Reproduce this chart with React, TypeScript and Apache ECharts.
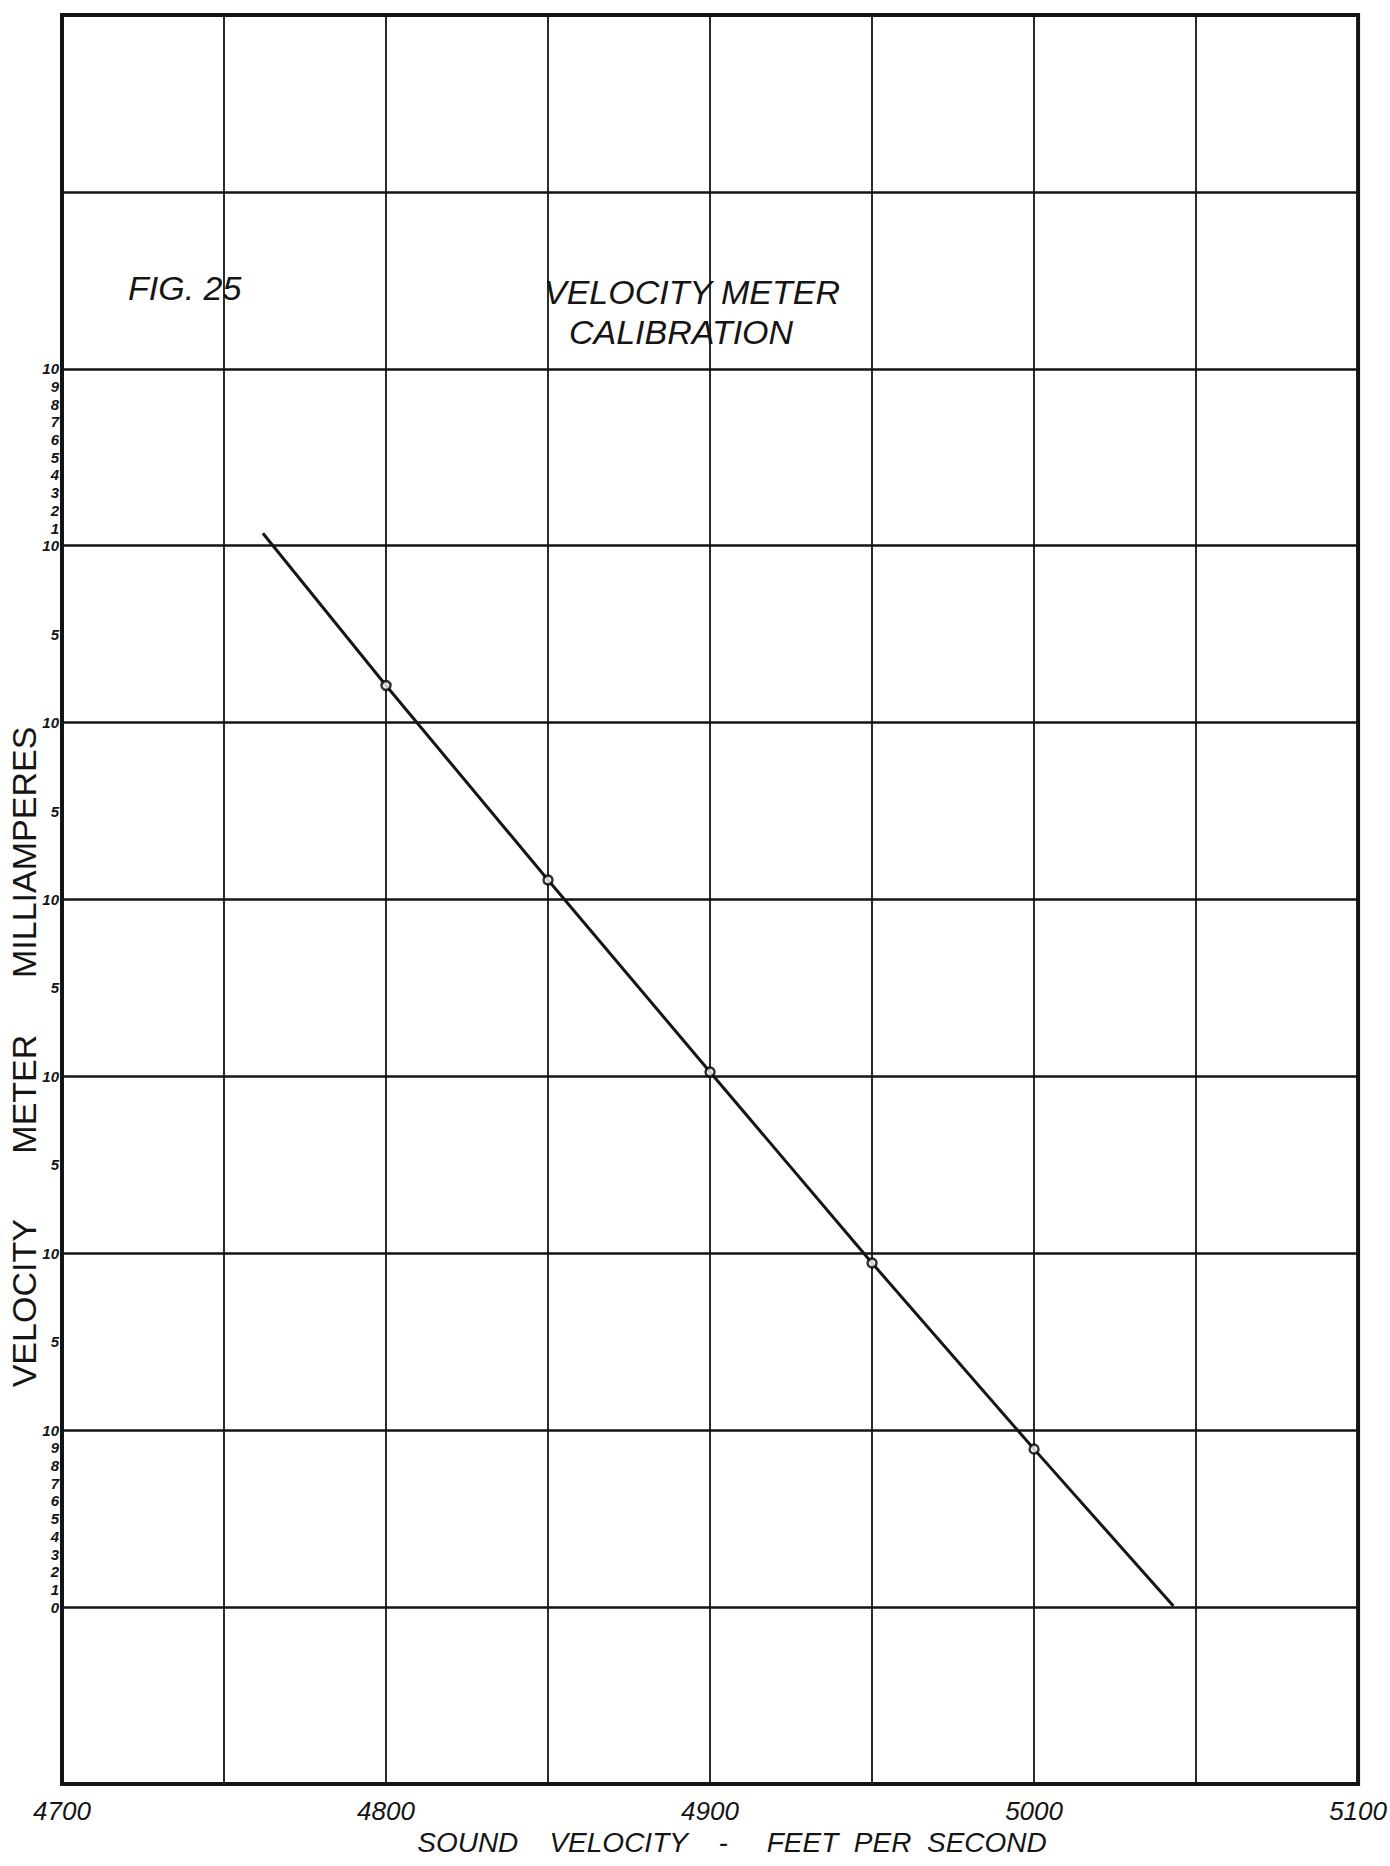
import React, { useEffect, useRef } from "react";
import * as echarts from "echarts";

// Measured calibration points (sound velocity ft/s, meter reading on continuous mA scale)
const pointVelocity = [4800, 4850, 4900, 4950, 5000];
const pointCurrent = [52.1, 41.1, 30.25, 19.45, 8.93];

// Hand-drawn calibration line: start, through the points, end
const lineVelocity = [4762, 4800, 4850, 4900, 4950, 5000, 5043];
const lineCurrent = [60.7, 52.1, 41.1, 30.25, 19.45, 8.93, 0.06];

// Axis ticks
const xTickValues = [4700, 4800, 4900, 5000, 5100];
const xTickLabels = ["4700", "4800", "4900", "5000", "5100"];

const yTickValues = [
  0, 1, 2, 3, 4, 5, 6, 7, 8, 9, 10,
  15, 20, 25, 30, 35, 40, 45, 50, 55,
  60, 61, 62, 63, 64, 65, 66, 67, 68, 69, 70,
];
const yTickLabels = [
  "0", "1", "2", "3", "4", "5", "6", "7", "8", "9", "10",
  "5", "10", "5", "10", "5", "10", "5", "10", "5",
  "10", "1", "2", "3", "4", "5", "6", "7", "8", "9", "10",
];

const INK = "#151515";
const FONT = "Liberation Sans";

const txt = (text: string, x: number, y: number, size: number, align: string, extra: any = {}) => ({
  type: "text",
  x,
  y,
  ...extra,
  style: {
    text,
    fontSize: size,
    fontStyle: extra.upright ? "normal" : "italic",
    fontFamily: FONT,
    fill: INK,
    textAlign: align,
    textVerticalAlign: "middle",
    align,
    verticalAlign: "middle",
  },
});

export default function App() {
  const ref = useRef<HTMLDivElement>(null);

  useEffect(() => {
    if (!ref.current) return;
    const chart = echarts.init(ref.current, null, { renderer: "svg" });

    const xMap: Record<string, string> = {};
    xTickValues.forEach((v, i) => (xMap[String(v)] = xTickLabels[i]));
    const yMap: Record<string, string> = {};
    yTickValues.forEach((v, i) => (yMap[String(v)] = yTickLabels[i]));

    chart.setOption({
      animation: false,
      backgroundColor: "#ffffff",
      grid: {
        left: 62,
        right: 31,
        top: 15,
        bottom: 82,
        show: true,
        borderColor: INK,
        borderWidth: 4,
        backgroundColor: "transparent",
      },
      xAxis: {
        type: "value",
        min: 4700,
        max: 5100,
        interval: 50,
        axisLine: { show: false },
        axisTick: { show: false },
        splitLine: { show: true, lineStyle: { color: INK, width: 1.8 } },
        axisLabel: {
          show: true,
          margin: 14,
          fontSize: 26,
          fontStyle: "italic",
          fontFamily: FONT,
          color: INK,
          formatter: (v: number) => xMap[String(Math.round(v))] ?? "",
        },
      },
      yAxis: [
        {
          type: "value",
          min: -10,
          max: 90,
          interval: 10,
          axisLine: { show: false },
          axisTick: { show: false },
          axisLabel: { show: false },
          splitLine: { show: true, lineStyle: { color: INK, width: 2.6 } },
        },
        {
          type: "value",
          position: "left",
          offset: 0,
          min: -10,
          max: 90,
          interval: 1,
          axisLine: { show: false },
          axisTick: { show: false },
          splitLine: { show: false },
          axisLabel: {
            show: true,
            margin: 3,
            fontSize: 15,
            fontWeight: "bold",
            fontStyle: "italic",
            fontFamily: FONT,
            color: INK,
            formatter: (v: number) => yMap[String(Math.round(v))] ?? "",
          },
        },
      ],
      series: [
        {
          type: "line",
          yAxisIndex: 0,
          data: lineVelocity.map((v, i) => [v, lineCurrent[i]]),
          symbol: "none",
          lineStyle: { color: INK, width: 3 },
          z: 3,
        },
        {
          type: "scatter",
          yAxisIndex: 0,
          data: pointVelocity.map((v, i) => [v, pointCurrent[i]]),
          symbol: "circle",
          symbolSize: 9,
          itemStyle: { color: "#ffffff", borderColor: "#000000", borderWidth: 2.5 },
          z: 4,
        },
      ],
      graphic: [
        txt("FIG. 25", 128, 288, 34, "left"),
        txt("VELOCITY METER", 692, 292, 34, "center"),
        txt("CALIBRATION", 681, 332, 34, "center"),
        txt("SOUND    VELOCITY    -     FEET  PER  SECOND", 732, 1842, 28, "center"),
        txt("VELOCITY       METER      MILLIAMPERES", 24, 1057, 34, "center", {
          rotation: Math.PI / 2,
          upright: true,
        }),
      ],
    });

    return () => chart.dispose();
  }, []);

  return (
    <div
      ref={ref}
      style={{ position: "absolute", left: 0, top: 0, width: 1390, height: 1866 }}
    />
  );
}
